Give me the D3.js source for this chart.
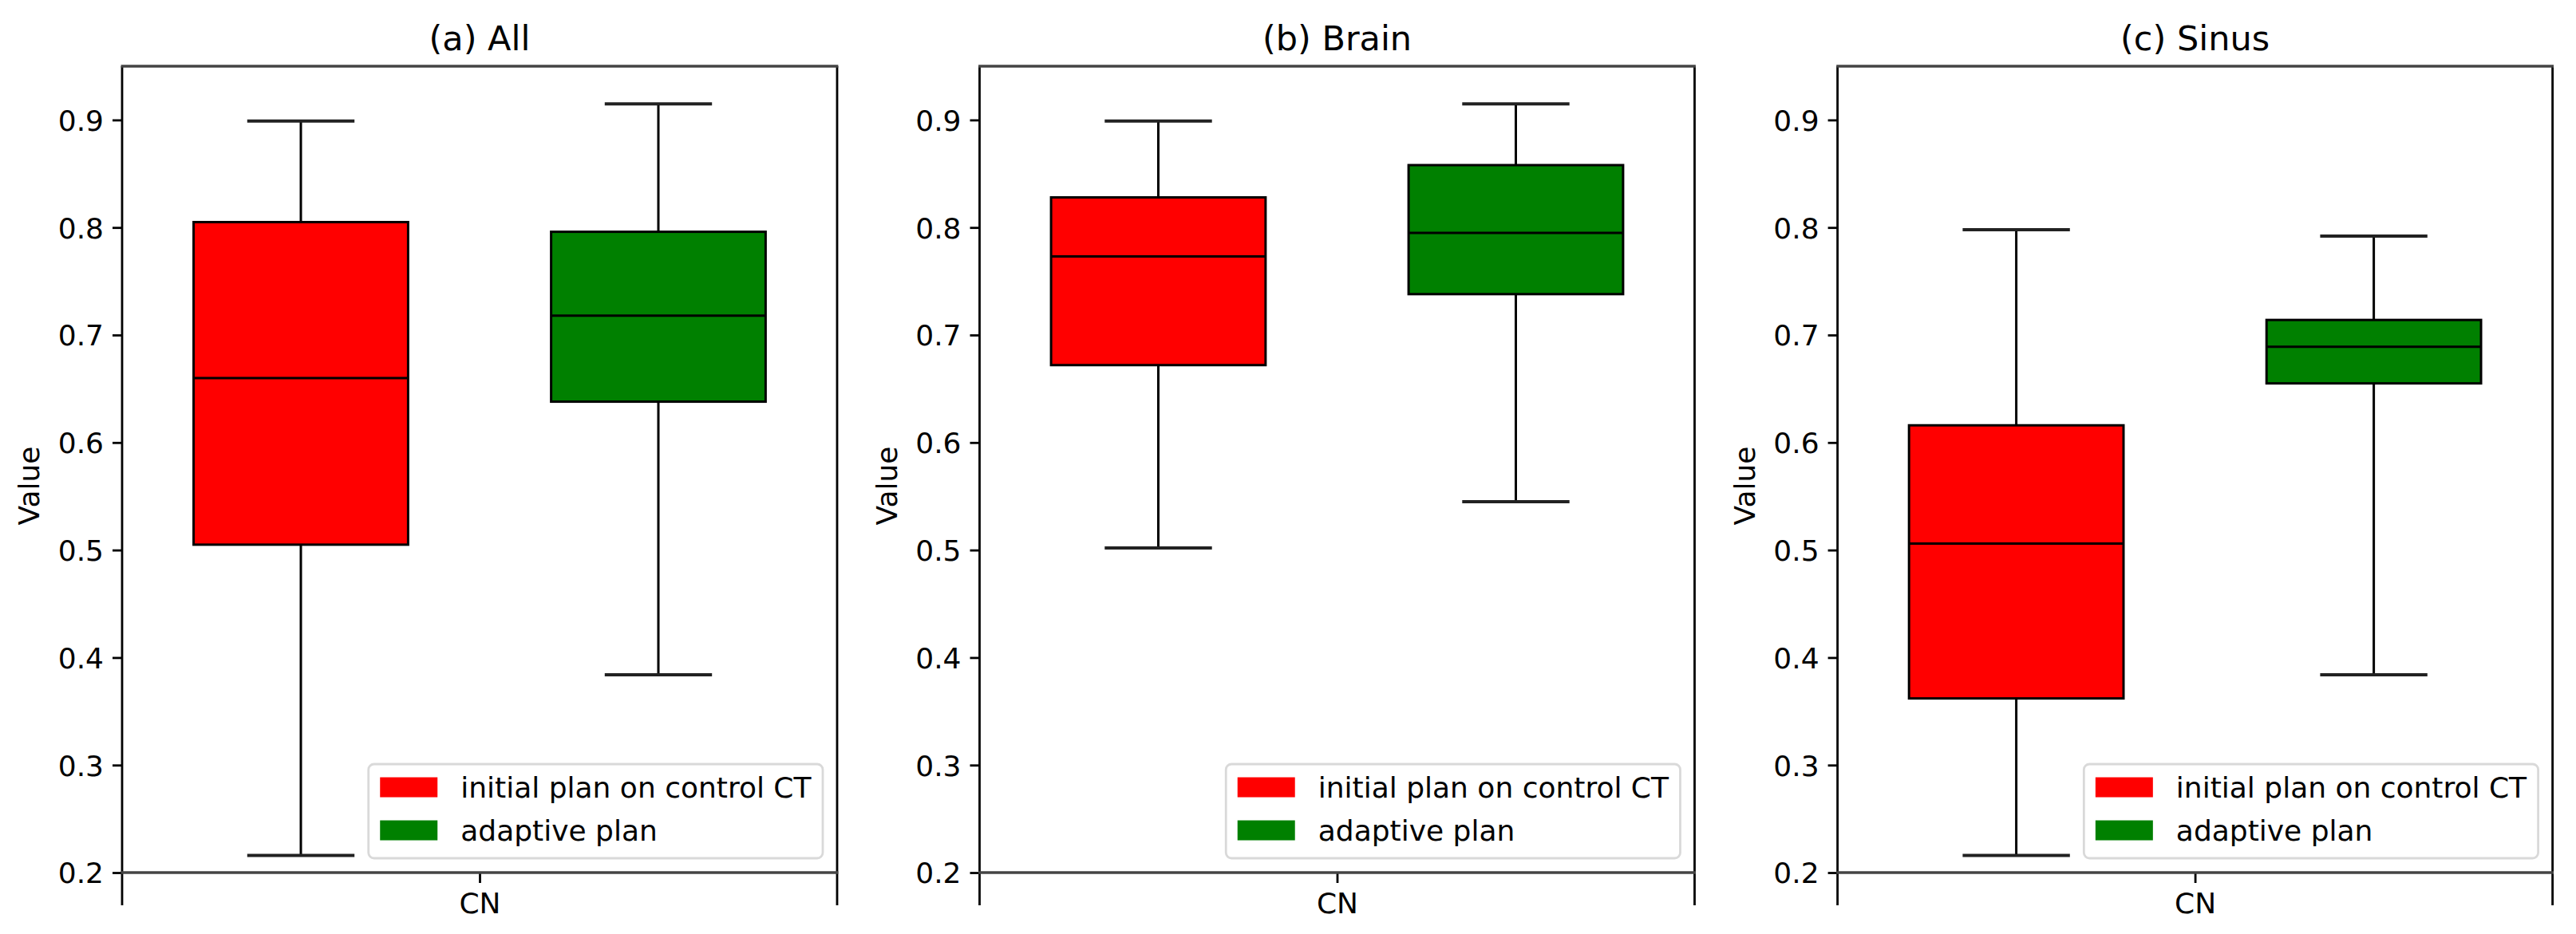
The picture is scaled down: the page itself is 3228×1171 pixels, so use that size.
<!DOCTYPE html>
<html>
<head>
<meta charset="utf-8">
<script src="https://cdn.jsdelivr.net/npm/d3@7"></script>
<style>
  html, body { margin: 0; padding: 0; background: #fff; }
  svg { display: block; font-family: "DejaVu Sans", sans-serif; }
</style>
</head>
<body>
<svg id="chart" width="3228" height="1171"></svg>
<script>
// ---- data ----
const panelTitles = ["(a) All", "(b) Brain", "(c) Sinus"];
const seriesNames = ["initial plan on control CT", "adaptive plan"];
const categories = ["CN"];
// per panel: [initial, adaptive]
const whiskerLow  = [[0.216, 0.384], [0.502, 0.545], [0.216, 0.384]];
const quartile1   = [[0.505, 0.638], [0.672, 0.738], [0.362, 0.655]];
const medians     = [[0.660, 0.718], [0.773, 0.795], [0.506, 0.689]];
const quartile3   = [[0.805, 0.796], [0.828, 0.858], [0.616, 0.714]];
const whiskerHigh = [[0.899, 0.915], [0.899, 0.915], [0.798, 0.792]];
const yTicks = [0.2, 0.3, 0.4, 0.5, 0.6, 0.7, 0.8, 0.9];
const yLabel = "Value";

// ---- layout ----
const colors = ["#ff0000", "#008000"];
const panelLefts = [153, 1227.5, 2302.6];
const panelW = 896;
const plotTop = 83, plotBottom = 1135;
const yDomain = [0.1696, 0.95];
const FS = 36;

const svg = d3.select("#chart");
const y = d3.scaleLinear().domain(yDomain).range([plotBottom, plotTop]);

panelTitles.forEach((title, p) => {
  const g = svg.append("g").attr("transform", `translate(${panelLefts[p]},0)`);
  const xCat = d3.scalePoint().domain(categories).range([0, panelW]).padding(0.5);
  const xs = d3.scalePoint().domain(seriesNames).range([0, panelW]).padding(0.5);
  const boxW = panelW * 0.30;
  const capW = boxW / 2;

  // boxes
  seriesNames.forEach((s, i) => {
    const cx = xs(s);
    const bg = g.append("g");
    const stroke = "#000", sw = 3;
    bg.append("line").attr("x1", cx).attr("x2", cx)
      .attr("y1", y(quartile3[p][i])).attr("y2", y(whiskerHigh[p][i]))
      .attr("stroke", stroke).attr("stroke-width", sw);
    bg.append("line").attr("x1", cx).attr("x2", cx)
      .attr("y1", y(quartile1[p][i])).attr("y2", y(whiskerLow[p][i]))
      .attr("stroke", stroke).attr("stroke-width", sw);
    [whiskerHigh[p][i], whiskerLow[p][i]].forEach(v => {
      bg.append("line").attr("x1", cx - capW/2).attr("x2", cx + capW/2)
        .attr("y1", y(v)).attr("y2", y(v))
        .attr("stroke", "#222").attr("stroke-width", 4);
    });
    bg.append("rect").attr("x", cx - boxW/2).attr("width", boxW)
      .attr("y", y(quartile3[p][i]))
      .attr("height", y(quartile1[p][i]) - y(quartile3[p][i]))
      .attr("fill", colors[i]).attr("stroke", stroke).attr("stroke-width", sw);
    bg.append("line").attr("x1", cx - boxW/2).attr("x2", cx + boxW/2)
      .attr("y1", y(medians[p][i])).attr("y2", y(medians[p][i]))
      .attr("stroke", stroke).attr("stroke-width", sw);
  });

  // spines
  g.append("line").attr("x1", 0).attr("x2", 0).attr("y1", plotTop).attr("y2", plotBottom)
    .attr("stroke", "#000").attr("stroke-width", 2.8);
  g.append("line").attr("x1", panelW).attr("x2", panelW).attr("y1", plotTop).attr("y2", plotBottom)
    .attr("stroke", "#000").attr("stroke-width", 2.8);
  g.append("line").attr("x1", -1.4).attr("x2", panelW + 1.4).attr("y1", plotTop).attr("y2", plotTop)
    .attr("stroke", "#444").attr("stroke-width", 3.5);

  // y axis
  const yAxis = d3.axisLeft(y).tickValues(yTicks).tickFormat(d3.format(".1f"))
    .tickSize(12).tickPadding(11);
  const ya = g.append("g").call(yAxis);
  ya.select(".domain").remove();
  ya.selectAll(".tick line").attr("stroke", "#000").attr("stroke-width", 2.8);
  ya.selectAll(".tick text").attr("font-size", FS).attr("fill", "#000")
    .attr("font-family", "DejaVu Sans").attr("dy", "0.36em");

  // bottom spine at y = 0.2 with x tick
  const xAxis = d3.axisBottom(xCat).tickSize(13).tickPadding(12);
  const xa = g.append("g").attr("transform", `translate(0,${y(0.2)})`).call(xAxis);
  xa.select(".domain").remove();
  g.append("line").attr("x1", -1.4).attr("x2", panelW + 1.4)
    .attr("y1", y(0.2)).attr("y2", y(0.2))
    .attr("stroke", "#444").attr("stroke-width", 3.5);
  xa.selectAll(".tick line").attr("stroke", "#000").attr("stroke-width", 2.8);
  xa.selectAll(".tick text").attr("font-size", FS).attr("fill", "#000")
    .attr("font-family", "DejaVu Sans").attr("dy", "0.71em");

  // title
  g.append("text").attr("x", panelW / 2).attr("y", 63)
    .attr("text-anchor", "middle").attr("font-size", 43).attr("fill", "#000")
    .text(title);

  // y label
  g.append("text").attr("transform", `translate(-104,${(plotTop + plotBottom) / 2}) rotate(-90)`)
    .attr("text-anchor", "middle").attr("font-size", FS).attr("fill", "#000")
    .text(yLabel);

  // legend
  const pad = 14.5, handleLen = 72, handleH = 25, textPad = 29, rowGap = 54;
  const lg = g.append("g");
  const frame = lg.append("rect");
  const texts = [];
  seriesNames.forEach((s, i) => {
    texts.push(lg.append("text").attr("font-size", FS).attr("fill", "#000").text(s));
  });
  const textW = d3.max(texts, t => t.node().getComputedTextLength());
  const legW = pad * 2 + handleLen + textPad + textW;
  const legH = 118;
  const lx = panelW - 18 - legW;
  const ly = y(0.2) - 18 - legH;
  frame.attr("x", lx).attr("y", ly).attr("width", legW).attr("height", legH)
    .attr("rx", 7).attr("fill", "#fff").attr("fill-opacity", 0.85)
    .attr("stroke", "#d9d9d9").attr("stroke-width", 2.8);
  seriesNames.forEach((s, i) => {
    const cy = ly + 29 + i * rowGap;
    lg.append("rect").attr("x", lx + pad).attr("y", cy - handleH / 2)
      .attr("width", handleLen).attr("height", handleH).attr("fill", colors[i]);
    texts[i].attr("x", lx + pad + handleLen + textPad).attr("y", cy).attr("dy", "0.36em");
  });
});
</script>
</body>
</html>
